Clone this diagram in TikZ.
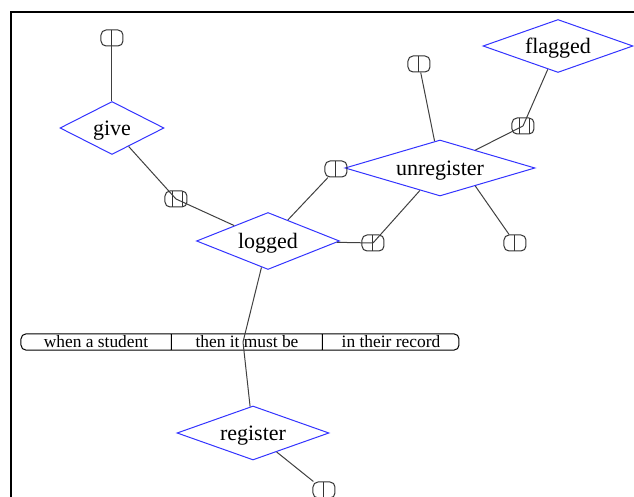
\documentclass[tikz,border=0pt]{standalone}
\usepackage{fontspec}
\setmainfont{Liberation Serif}
\usetikzlibrary{shapes.geometric, shapes.multipart}
\definecolor{relblue}{RGB}{51,51,255}

\begin{document}
\begin{tikzpicture}[x=0.5pt, y=-0.5pt, line width=0.5pt,
        rel/.style ={diamond, aspect=3.5, draw=relblue, inner sep=0pt, text=black, text height=8pt, text depth=0pt,
            font=\fontsize{11}{13}\selectfont},
        onebar/.style ={rectangle, draw=black!80, rounded corners=2.5pt, minimum width=11pt, minimum height=8pt, inner sep=0pt,
            path picture={\draw[black!80] (path picture bounding box.north) -- (path picture bounding box.south);}},
        twobar/.style ={rectangle, draw=black!80, rounded corners=2.5pt, minimum width=11pt, minimum height=8pt, inner sep=0pt,
            path picture={\draw[black!80] ([xshift=-1.75pt]path picture bounding box.north) -- ([xshift=-1.75pt]path picture bounding box.south);
                          \draw[black!80] ([xshift=3.5pt]path picture bounding box.north) -- ([xshift=3.5pt]path picture bounding box.south);}},
        link/.style ={draw=black!75},
        record/.style ={rectangle split, rectangle split horizontal, rectangle split parts=3, draw, rounded corners=2.5pt,
            inner xsep=2pt, inner ysep=1pt, font=\fontsize{8.7}{10}\selectfont}]

        \useasboundingbox (0,0) rectangle (634,497);
        \draw[line width=1pt] (634,12) -- (11,12) -- (11,497);

        %relaciones
        \node[rel, minimum width=52pt, minimum height=26.5pt] (give) at (112,128) {give};
        \node[rel, minimum width=75pt, minimum height=26.5pt] (flagged) at (558,46) {flagged};
        \node[rel, minimum width=95pt, minimum height=28pt] (unregister) at (440,168) {unregister};
        \node[rel, minimum width=71.5pt, minimum height=28.5pt] (logged) at (268,241) {logged};
        \node[rel, minimum width=76pt, minimum height=27pt] (register) at (253,433) {register};

        %tabla
        \node[record] (record) at (240,342) {\makebox[71pt]{when a student}\nodepart{two}\makebox[71pt]{then it must be}\nodepart{three}\makebox[64pt]{in their record}};
        \coordinate (cross) at (243,342);

        %conectores
        \node[onebar] (m1) at (112,38) {};
        \node[twobar] (m2) at (176,199) {};
        \node[onebar] (m3) at (336,169) {};
        \node[onebar] (m4) at (373,243) {};
        \node[onebar] (m5) at (515,243) {};
        \node[onebar] (m6) at (419,64) {};
        \node[twobar] (m7) at (523,126) {};
        \node[onebar] (m8) at (324,490) {};

        \path (give) edge[link] (m1);
        \path (give) edge[link] (m2.center);
        \path (m2.center) edge[link] (logged);
        \path (logged) edge[link] (m3);
        \path (logged) edge[link] (m4.center);
        \path (m4.center) edge[link] (unregister);
        \path (unregister.-27) edge[link] (m5);
        \path (unregister) edge[link] (m6);
        \path (unregister) edge[link] (m7.center);
        \path (m7.center) edge[link] (flagged);
        \path (logged) edge[link] (cross);
        \path (cross) edge[link] (register);
        \path (register) edge[link] (m8);
    \end{tikzpicture}
\end{document}
